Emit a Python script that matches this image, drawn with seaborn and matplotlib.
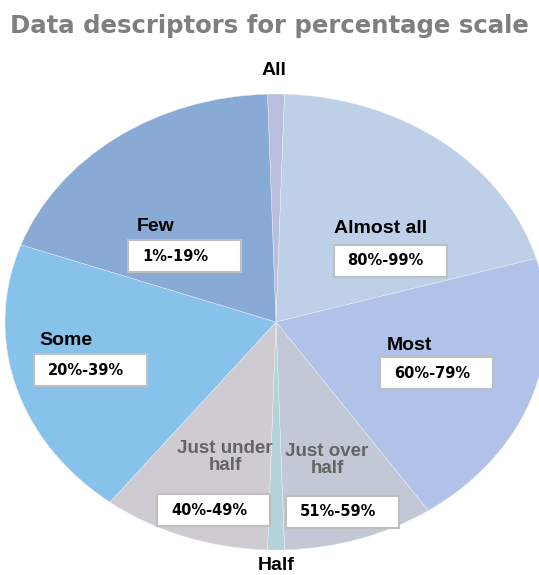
import matplotlib
matplotlib.use("Agg")
import matplotlib.pyplot as plt
import matplotlib.patches as mpatches
import seaborn as sns

# slice order: clockwise from the top
categories = ["All", "Almost all", "Most", "Just over half", "Half",
              "Just under half", "Some", "Few"]
shares = [1, 20, 20, 9, 1, 10, 20, 19]
ranges = ["", "80%-99%", "60%-79%", "51%-59%", "", "40%-49%", "20%-39%", "1%-19%"]
colors = ["#B9BEDC", "#BDD0E8", "#B0C2E8", "#C3C8D6", "#B3D3D9",
          "#CFCBD3", "#87C2EA", "#88AAD4"]

sns.set_style("white")
plt.rcParams["font.family"] = ["Liberation Sans", "DejaVu Sans"]

fig = plt.figure(figsize=(5.39, 5.75), dpi=100)
W, H = 539, 575
cx, cy, rx, ry = 276, 322, 271, 228
ax = fig.add_axes([(cx - rx) / W, (H - cy - ry) / H, 2 * rx / W, 2 * ry / H])

start = 90 + shares[0] / 2 / sum(shares) * 360
ax.pie(shares, colors=sns.color_palette(colors), startangle=start,
       counterclock=False, radius=1,
       wedgeprops=dict(linewidth=0.3, edgecolor="#EEF2F8"))
ax.set_aspect("auto")
ax.set_xlim(-1, 1)
ax.set_ylim(-1, 1)
ax.set_axis_off()

fig.text(0.5, 1 - 26 / H, "Data descriptors for percentage scale", ha="center",
         va="center", fontsize=17.6, fontweight="bold", color="#7F7F7F",
         family=["DejaVu Sans"])

# label placement (axes data units)
name_pos = {"Almost all": (0.384, 0.408), "Most": (0.494, -0.101),
            "Just over half": (0.188, -0.605), "Just under half": (-0.188, -0.592),
            "Some": (-0.775, -0.083), "Few": (-0.446, 0.421),
            "All": (-0.007, 1.105), "Half": (0.0, -1.066)}
box_pos = {"Almost all": (0.421, 0.268), "Most": (0.594, -0.224),
           "Just over half": (0.244, -0.833), "Just under half": (-0.229, -0.825),
           "Some": (-0.686, -0.211), "Few": (-0.336, 0.289)}
bw, bh = 113 / rx, 32 / ry

for cat, rng in zip(categories, ranges):
    x, y = name_pos[cat]
    gray = cat.startswith("Just")
    label = cat.replace(" half", "\nhalf") if gray else cat
    ax.text(x, y, label, ha="center", va="center",
            fontsize=13.5 if gray else 14, fontweight="bold",
            color="#646464" if gray else "black",
            linespacing=1.0, clip_on=False)
    if rng:
        bx, by = box_pos[cat]
        ax.add_patch(mpatches.Rectangle((bx - bw / 2, by - bh / 2), bw, bh,
                                        facecolor="white", edgecolor="#BFBFBF",
                                        linewidth=1.5, zorder=3))
        ax.text(bx - bw / 2 + 14 / rx, by, rng, ha="left", va="center",
                fontsize=10.5, fontweight="bold", color="black", zorder=4,
                family=["DejaVu Sans"])

fig.savefig("out.png", dpi=100)
